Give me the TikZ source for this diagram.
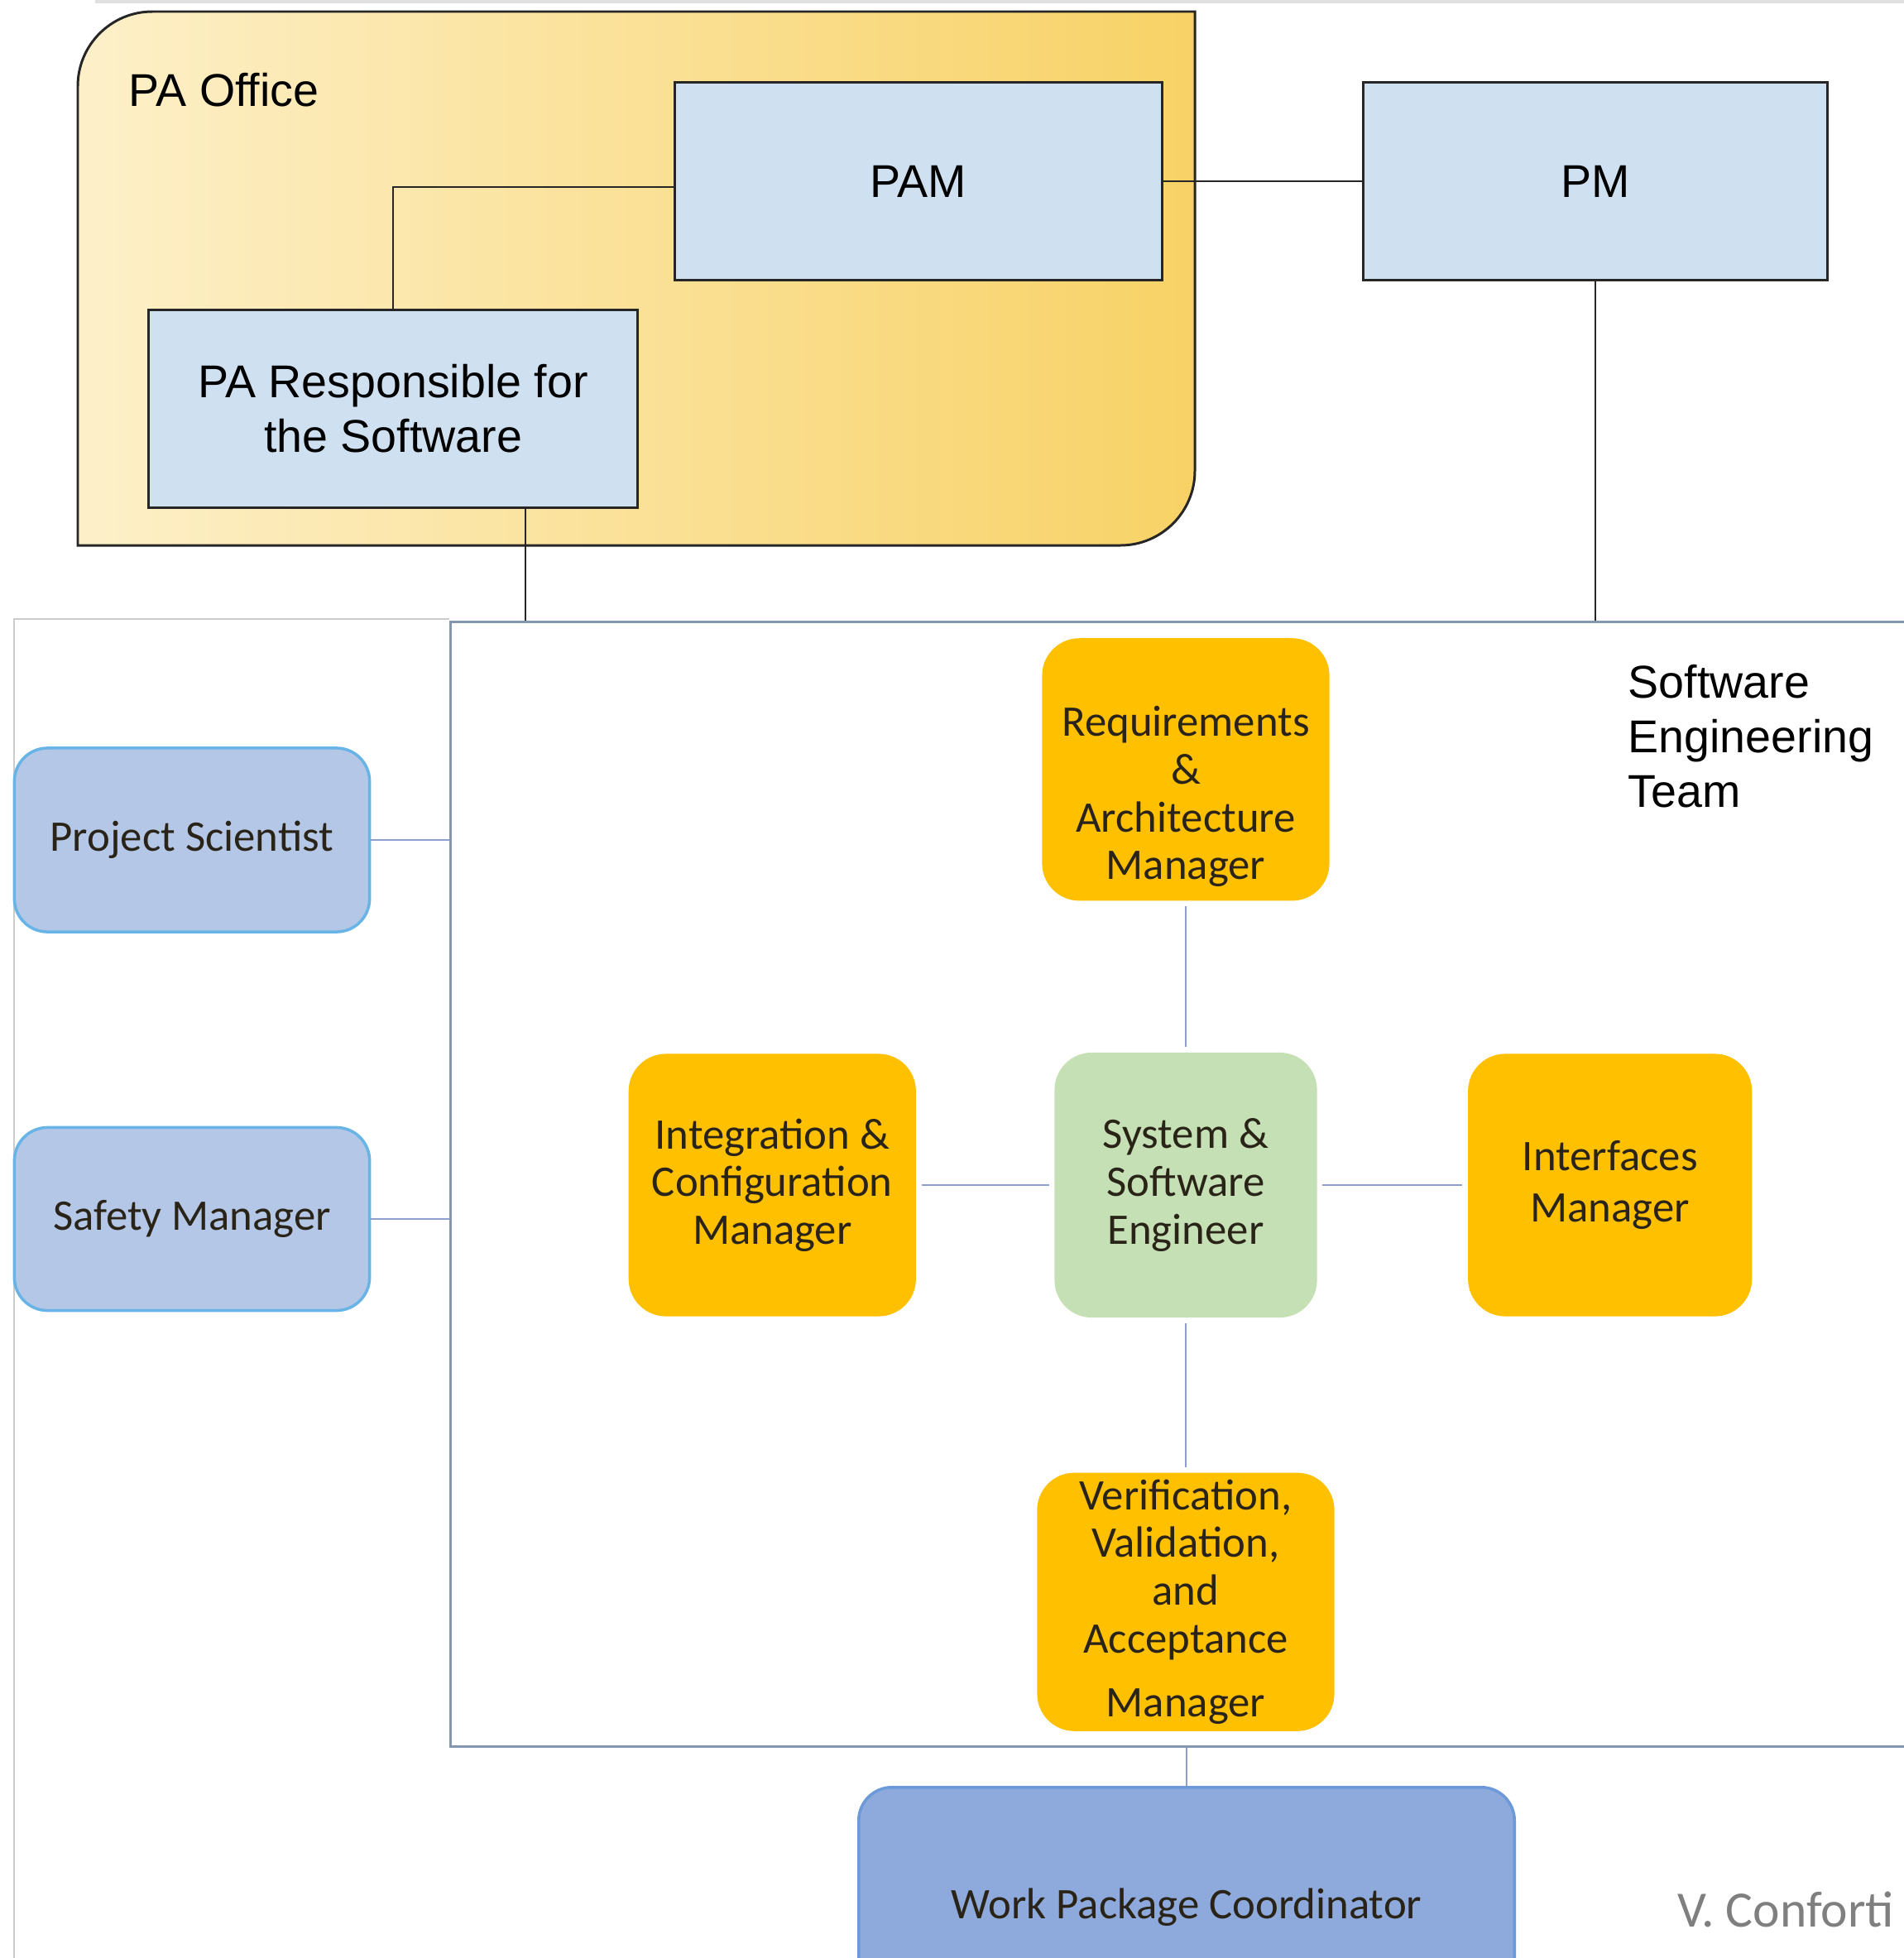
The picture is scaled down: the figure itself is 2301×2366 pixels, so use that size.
\documentclass[tikz,border=0pt]{standalone}
\usepackage{fontspec}
\setmainfont{Liberation Sans}
\newfontfamily\calibri{Carlito}
\usetikzlibrary{positioning}

\definecolor{paleblue}{HTML}{CFE0F1}
\definecolor{amber}{HTML}{FFC000}
\definecolor{sage}{HTML}{C5E0B4}
\definecolor{sidefill}{HTML}{B4C7E7}
\definecolor{sideline}{HTML}{68B4E6}
\definecolor{wpcfill}{HTML}{8EA9DB}
\definecolor{wpcline}{HTML}{6C9AD8}
\definecolor{teamline}{HTML}{8497B0}
\definecolor{linkblue}{HTML}{8E9ECF}
\definecolor{officeleft}{HTML}{FDF0C9}
\definecolor{officeright}{HTML}{F8D266}
\definecolor{roletext}{HTML}{2A2418}
\definecolor{credittext}{HTML}{7F7F7F}

\begin{document}
\begin{tikzpicture}[x=0.01cm,y=-0.01cm,
		every node/.style={inner sep=0pt},
		toptext/.style={font=\fontsize{15.8}{18.7}\selectfont},
		bluebox/.style={toptext,draw=black!85,line width=0.85pt,fill=paleblue,align=center},
		roletext/.style={align=center,text=roletext,font=\calibri\fontsize{15}{16.4}\selectfont},
		rolebox/.style={roletext,rounded corners=0.45cm,fill=amber},
		sidebox/.style={rounded corners=0.4cm,draw=sideline,line width=1pt,fill=sidefill,text=roletext,font=\calibri\fontsize{15}{17}\selectfont},
		blackline/.style={draw=black!85,line width=0.75pt},
		blueline/.style={draw=linkblue,line width=0.8pt},
		gap/.style={shorten <=0.06cm,shorten >=0.06cm}]
		\useasboundingbox (0,0) rectangle (2301,2366);
		\fill[white] (0,0) rectangle (2301,2366);
		\draw[black!12,line width=1pt] (115,2) -- (2301,2);
		\draw[black!20,line width=0.6pt] (17,2400) -- (17,748) -- (543,748);

		\draw[draw=black!85,line width=0.85pt,left color=officeleft,right color=officeright]
			(94,659) [rounded corners=0.9cm] -- (94,14) [sharp corners] -- (1444,14) [rounded corners=0.9cm] -- (1444,659) [sharp corners] -- cycle;
		\node[anchor=base west,toptext]														(office)	at (155,128)	{PA Office};

		\node[bluebox,minimum width=5.89cm,minimum height=2.38cm]								(pam)		at (1110,219)	{PAM};
		\node[bluebox,minimum width=5.6cm,minimum height=2.38cm,right=2.4cm of pam]				(pm)					{PM};
		\node[bluebox,minimum width=5.9cm,minimum height=2.39cm]								(resp)		at (475,494)	{PA Responsible for\\the Software};

		\node[draw=teamline,line width=0.8pt,minimum width=17.9cm,minimum height=13.58cm,anchor=north west]	(team)	at (543,750)	{};
		\node[anchor=north west,align=left,toptext]											(teamlabel)	at (1967,803)	{Software\\Engineering\\Team};

		\node[rolebox,fill=sage,minimum width=3.17cm,minimum height=3.2cm]						(syseng)	at (1433,1432)	{System \&\\Software\\Engineer};
		\node[rolebox,minimum width=3.47cm,minimum height=3.17cm,above=1.82cm of syseng]		(req)					{};
		\node[roletext]																		(reqtext)	at ([yshift=-0.33cm]req.center)	{Requirements\\\&\\Architecture\\Manager};
		\node[rolebox,minimum width=3.47cm,minimum height=3.17cm,left=1.66cm of syseng]		(integ)					{Integration \&\\Configuration\\Manager};
		\node[rolebox,minimum width=3.43cm,minimum height=3.17cm,right=1.81cm of syseng]		(iface)					{Interfaces\\[0.05cm]Manager};
		\node[rolebox,minimum width=3.59cm,minimum height=3.12cm,below=1.86cm of syseng]		(vva)					{Verification,\\Validation,\\and\\Acceptance\\[0.2cm]Manager};

		\node[sidebox,minimum width=4.29cm,minimum height=2.22cm]								(ps)		at (232,1015)	{Project Scientist};
		\node[sidebox,minimum width=4.29cm,minimum height=2.21cm]								(sm)		at (232,1473)	{Safety Manager};
		\node[sidebox,draw=wpcline,fill=wpcfill,minimum width=7.92cm,minimum height=2.9cm,anchor=north]	(wpc)	at (1434,2158)	{Work Package Coordinator};

		\node[anchor=base west,text=credittext,font=\calibri\fontsize{17.5}{21}\selectfont]	(credit)	at (2027,2328)	{V. Conforti};

		\draw[blackline] (pam) -- (pm);
		\draw[blackline] ([yshift=-0.07cm]pam.west) -| (resp.north);
		\draw[blackline] (pm.south) -- (pm.south |- team.north);
		\coordinate (respout) at ([xshift=1.6cm]resp.south);
		\draw[blackline] (respout) -- (respout |- team.north);

		\draw[blueline] (ps.east) -- (ps.east -| team.west);
		\draw[blueline] (sm.east) -- (sm.east -| team.west);
		\draw[blueline,gap] (req) -- (syseng);
		\draw[blueline,gap] (integ) -- (syseng);
		\draw[blueline,gap] (syseng) -- (iface);
		\draw[blueline,gap] (syseng) -- (vva);
		\draw[blueline] (wpc.north) -- (wpc.north |- team.south);
	\end{tikzpicture}
\end{document}
